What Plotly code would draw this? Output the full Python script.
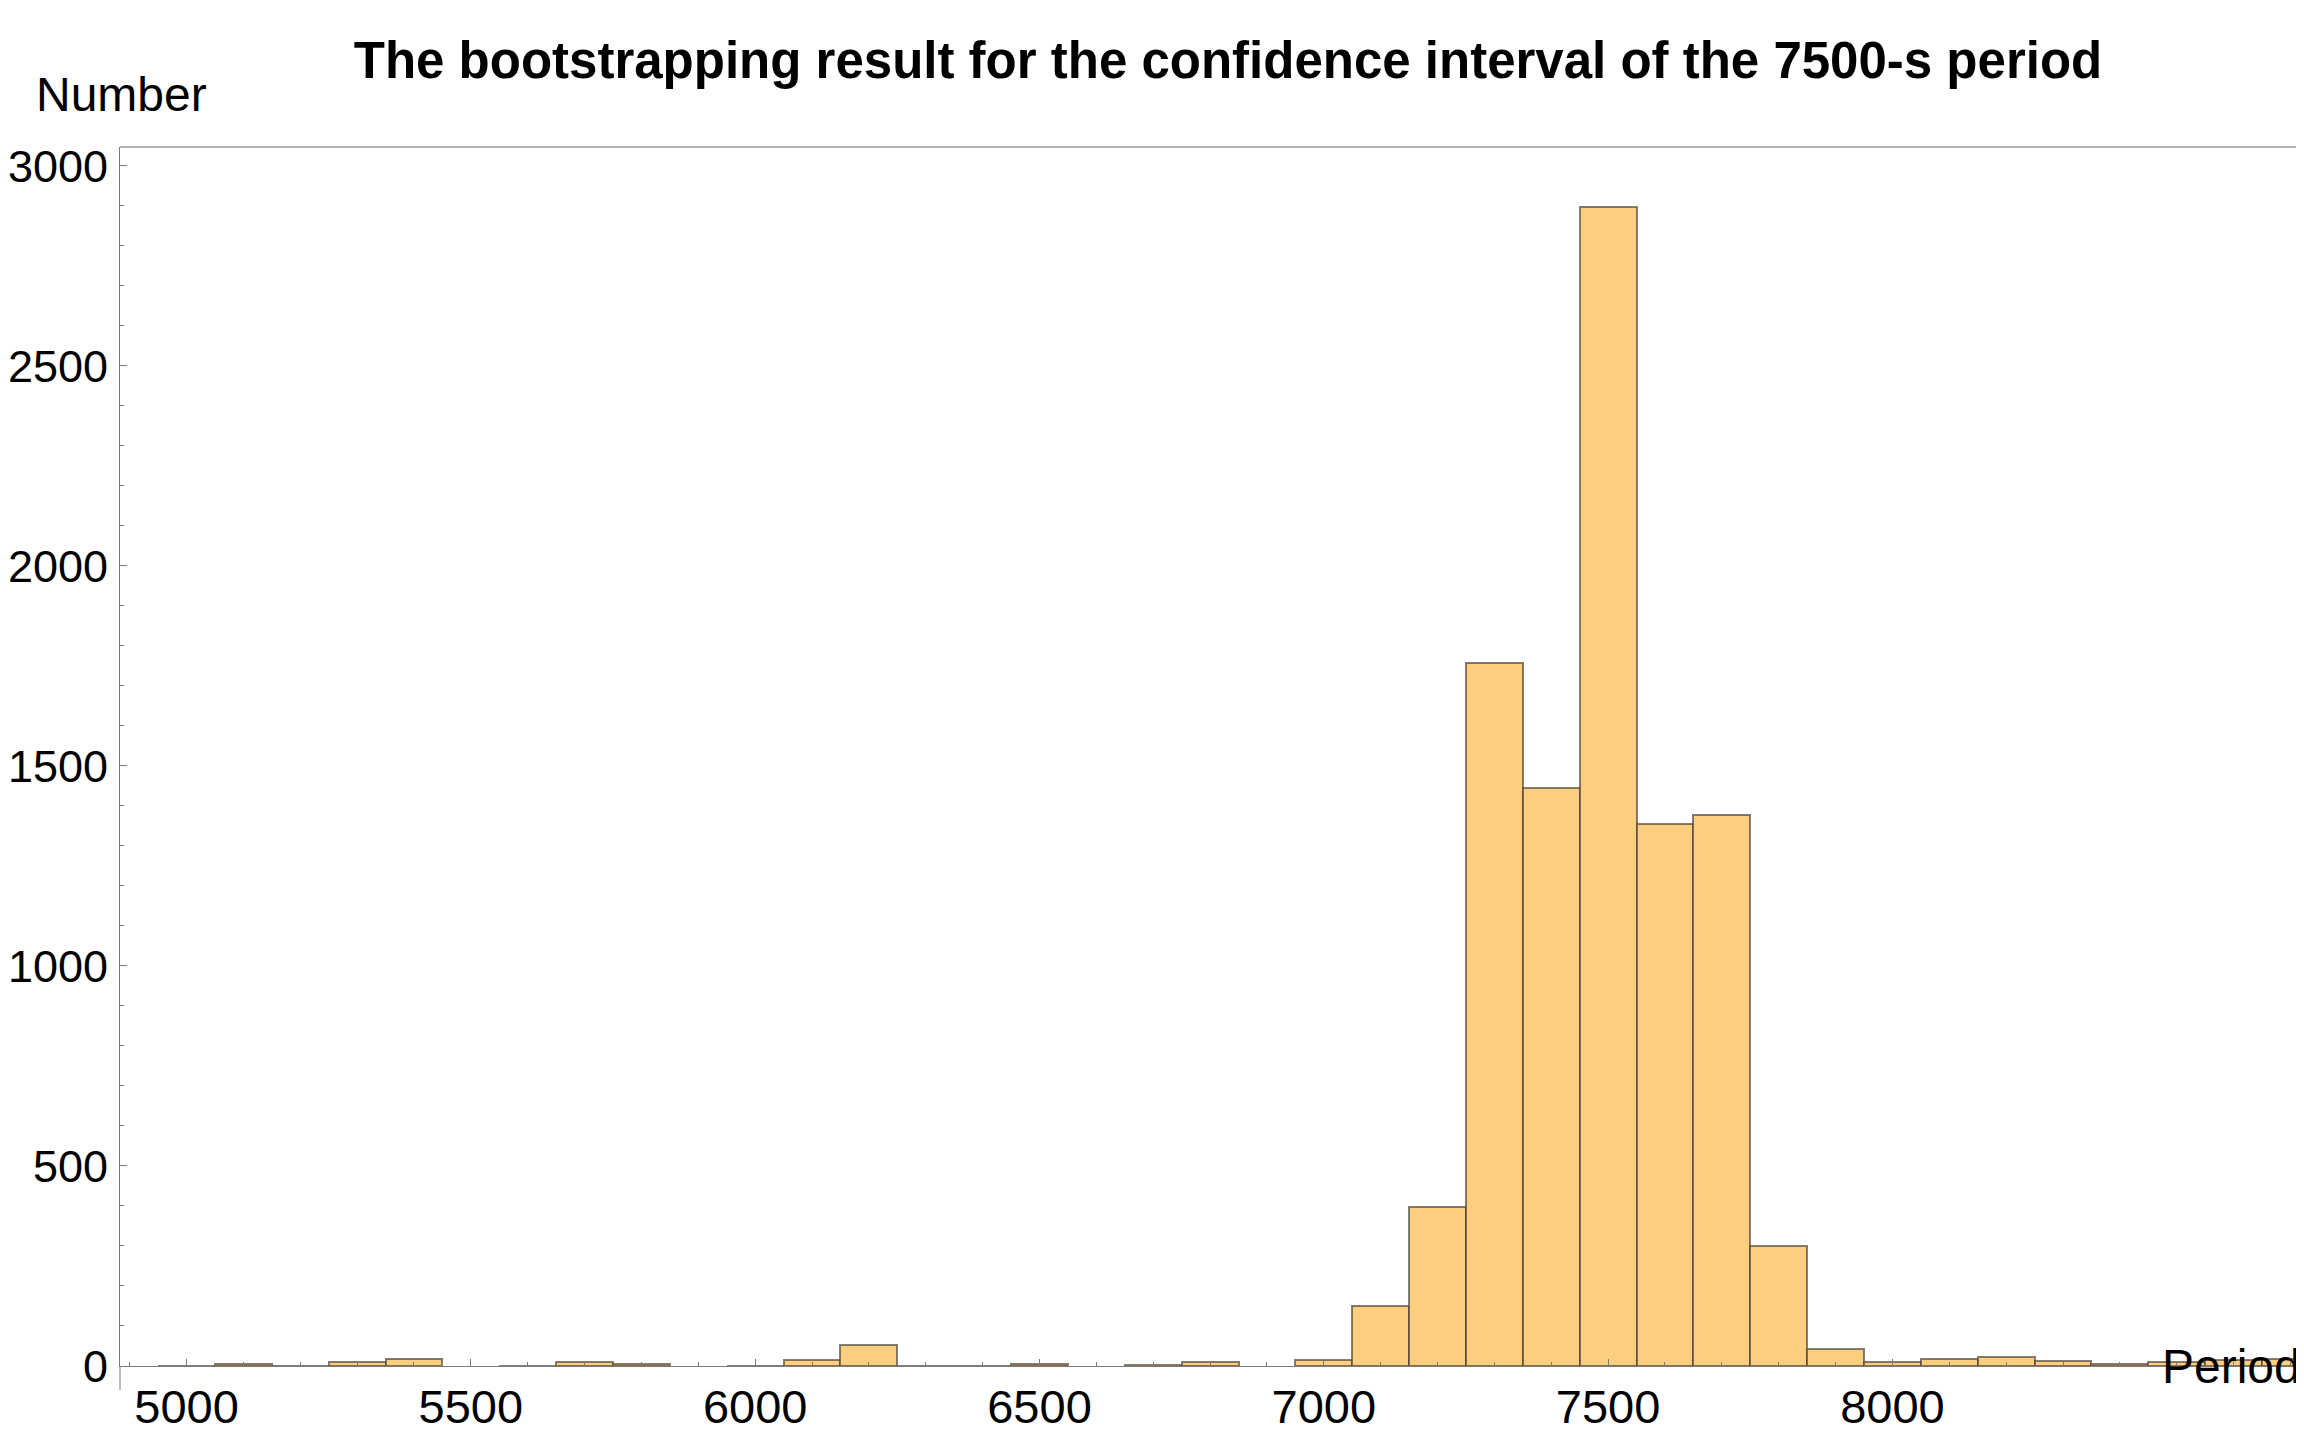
import plotly.graph_objects as go

# histogram of bootstrapped periods, bins of 100 s centred on the hundreds
bin_centers = [5000, 5100, 5200, 5300, 5400, 5500, 5600, 5700, 5800, 5900,
               6000, 6100, 6200, 6300, 6400, 6500, 6600, 6700, 6800, 6900,
               7000, 7100, 7200, 7300, 7400, 7500, 7600, 7700, 7800, 7900,
               8000, 8100, 8200, 8300, 8400, 8500, 8600, 8700]
counts = [1, 5, 1, 11, 17, 0, 1, 11, 6, 0,
          1, 16, 53, 1, 1, 6, 0, 2, 9, 0,
          16, 149, 397, 1756, 1446, 2896, 1356, 1377, 301, 43,
          11, 17, 22, 13, 4, 10, 15, 17]

x_ticks = [5000, 5500, 6000, 6500, 7000, 7500, 8000]
y_ticks = [0, 500, 1000, 1500, 2000, 2500, 3000]

title_text = "The bootstrapping result for the confidence interval of the 7500-s period"
FONT = "Liberation Sans, Arial, sans-serif"
AXIS = "#7a7a7a"

# the page body adds an 8px margin, so the figure is 8px smaller
W, H = 2296, 1426

fig = go.Figure()
fig.add_trace(go.Bar(
    x=bin_centers,
    y=[c if c > 0 else None for c in counts],
    width=100,
    marker=dict(color="rgb(252,206,128)",
                line=dict(color="rgba(70,60,50,0.65)", width=2)),
))

fig.update_layout(
    width=W, height=H,
    margin=dict(l=112, r=1, t=139, b=68, autoexpand=False),
    paper_bgcolor="white", plot_bgcolor="white",
    showlegend=False, bargap=0,
    font=dict(family=FONT, size=48, color="black"),
    title=dict(text="<b>" + title_text + "</b>", x=1220 / W, xanchor="center",
               y=1 - 52 / H, yanchor="middle",
               font=dict(family=FONT, size=51, color="black")),
)

fig.update_xaxes(
    range=[4883, 8722], tickvals=x_ticks, showgrid=False, zeroline=False,
    showline=True, linecolor=AXIS, linewidth=1,
    ticks="inside", ticklen=7, tickcolor=AXIS,
    minor=dict(dtick=100, tick0=0, ticks="inside", ticklen=4, tickcolor=AXIS),
    tickfont=dict(size=47),
)
fig.update_yaxes(
    range=[0, 3047], tickvals=y_ticks, showgrid=False, zeroline=False,
    showline=True, linecolor=AXIS, linewidth=1,
    ticks="inside", ticklen=7, tickcolor=AXIS,
    minor=dict(dtick=100, tick0=0, ticks="inside", ticklen=4, tickcolor=AXIS),
    tickfont=dict(size=45), ticklabelstandoff=2,
)

# frame on top / right and y axis running a little below zero
fig.add_shape(type="line", xref="paper", yref="paper", x0=0, x1=1, y0=1, y1=1,
              line=dict(color="#b0b0b0", width=2))
fig.add_shape(type="line", xref="paper", yref="paper", x0=1, x1=1, y0=0, y1=1,
              line=dict(color="#b0b0b0", width=1))
fig.add_shape(type="line", xref="paper", yref="paper", x0=0, x1=0, y0=0, y1=-24 / 1219,
              line=dict(color=AXIS, width=1))

fig.add_annotation(text="Number", xref="paper", yref="paper", x=-0.0396, y=1.0427,
                   xanchor="left", yanchor="middle", showarrow=False,
                   font=dict(size=48, color="black"))
fig.add_annotation(text="Period", xref="paper", yref="paper", x=1, y=0,
                   xanchor="right", yanchor="middle", showarrow=False,
                   font=dict(size=48, color="black"))

fig.write_html("out.html")
